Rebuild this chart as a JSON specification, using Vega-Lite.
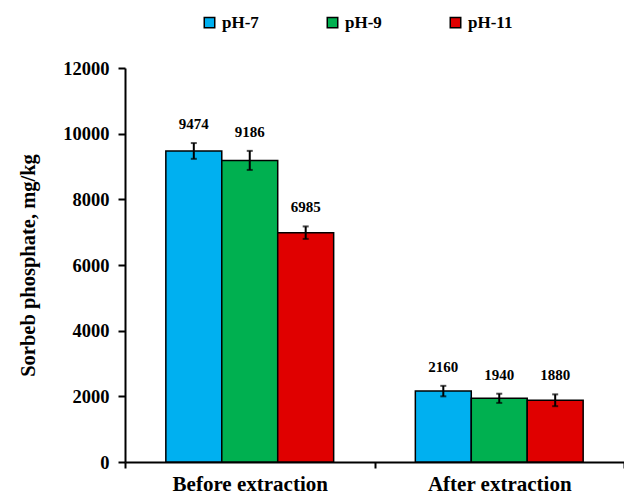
{
  "$schema": "https://vega.github.io/schema/vega-lite/v6.json",
  "width": 499,
  "height": 394,
  "autosize": {"type": "none"},
  "padding": {"left": 125, "top": 68, "right": 0, "bottom": 33},
  "background": "white",
  "config": {
    "view": {"stroke": null},
    "font": "Liberation Serif",
    "axis": {"labelFont": "Liberation Serif", "titleFont": "Liberation Serif", "labelFontWeight": "bold", "titleFontWeight": "bold", "labelColor": "black", "titleColor": "black", "domainColor": "black", "tickColor": "black", "domainWidth": 2, "tickWidth": 2, "grid": false},
    "legend": {"labelFont": "Liberation Serif", "labelFontWeight": "bold", "labelFontSize": 17, "labelColor": "black"}
  },
  "data": {
    "values": [
      {"stage": "Before extraction", "ph": "pH-7", "value": 9474, "lo": 9234, "hi": 9714},
      {"stage": "Before extraction", "ph": "pH-9", "value": 9186, "lo": 8896, "hi": 9476},
      {"stage": "Before extraction", "ph": "pH-11", "value": 6985, "lo": 6795, "hi": 7175},
      {"stage": "After extraction", "ph": "pH-7", "value": 2160, "lo": 2000, "hi": 2320},
      {"stage": "After extraction", "ph": "pH-9", "value": 1940, "lo": 1800, "hi": 2080},
      {"stage": "After extraction", "ph": "pH-11", "value": 1880, "lo": 1700, "hi": 2060}
    ]
  },
  "encoding": {
    "x": {
      "field": "stage", "type": "nominal", "sort": ["Before extraction", "After extraction"],
      "scale": {"paddingInner": 0, "paddingOuter": 0},
      "axis": {"title": null, "labelAngle": 0, "labelFontSize": 21, "tickBand": "extent", "tickSize": 6, "labelPadding": 5}
    },
    "xOffset": {
      "field": "ph", "type": "nominal", "sort": ["pH-7", "pH-9", "pH-11"],
      "scale": {"paddingInner": 0, "paddingOuter": 0.73}
    }
  },
  "layer": [
    {
      "mark": {"type": "bar", "stroke": "black", "strokeWidth": 1.5},
      "encoding": {
        "y": {
          "field": "value", "type": "quantitative",
          "scale": {"domain": [0, 12000]},
          "axis": {"title": "Sorbeb phosphate, mg/kg", "titleFontSize": 20.5, "labelFontSize": 18.5, "format": "d", "values": [0, 2000, 4000, 6000, 8000, 10000, 12000], "tickSize": 7, "labelPadding": 9, "titlePadding": 24}
        },
        "color": {
          "field": "ph", "type": "nominal", "sort": ["pH-7", "pH-9", "pH-11"],
          "scale": {"domain": ["pH-7", "pH-9", "pH-11"], "range": ["#00B0F0", "#00B050", "#E00000"]},
          "legend": {"title": null, "orient": "none", "legendX": 76, "legendY": -54, "direction": "horizontal", "columns": 3, "gridAlign": "all", "columnPadding": 57, "symbolType": "square", "symbolSize": 110, "symbolStrokeColor": "black", "symbolStrokeWidth": 1.5, "symbolOpacity": 1, "labelOffset": 4}
        }
      }
    },
    {
      "mark": {"type": "rule", "color": "black", "strokeWidth": 2},
      "encoding": {"y": {"field": "lo", "type": "quantitative"}, "y2": {"field": "hi"}}
    },
    {
      "mark": {"type": "tick", "color": "black", "thickness": 2, "size": 6},
      "encoding": {"y": {"field": "lo", "type": "quantitative"}}
    },
    {
      "mark": {"type": "tick", "color": "black", "thickness": 2, "size": 6},
      "encoding": {"y": {"field": "hi", "type": "quantitative"}}
    },
    {
      "mark": {"type": "text", "font": "Liberation Serif", "fontWeight": "bold", "fontSize": 15, "baseline": "bottom", "dy": -11, "color": "black"},
      "encoding": {"y": {"field": "hi", "type": "quantitative"}, "text": {"field": "value", "type": "quantitative", "format": "d"}}
    }
  ]
}
